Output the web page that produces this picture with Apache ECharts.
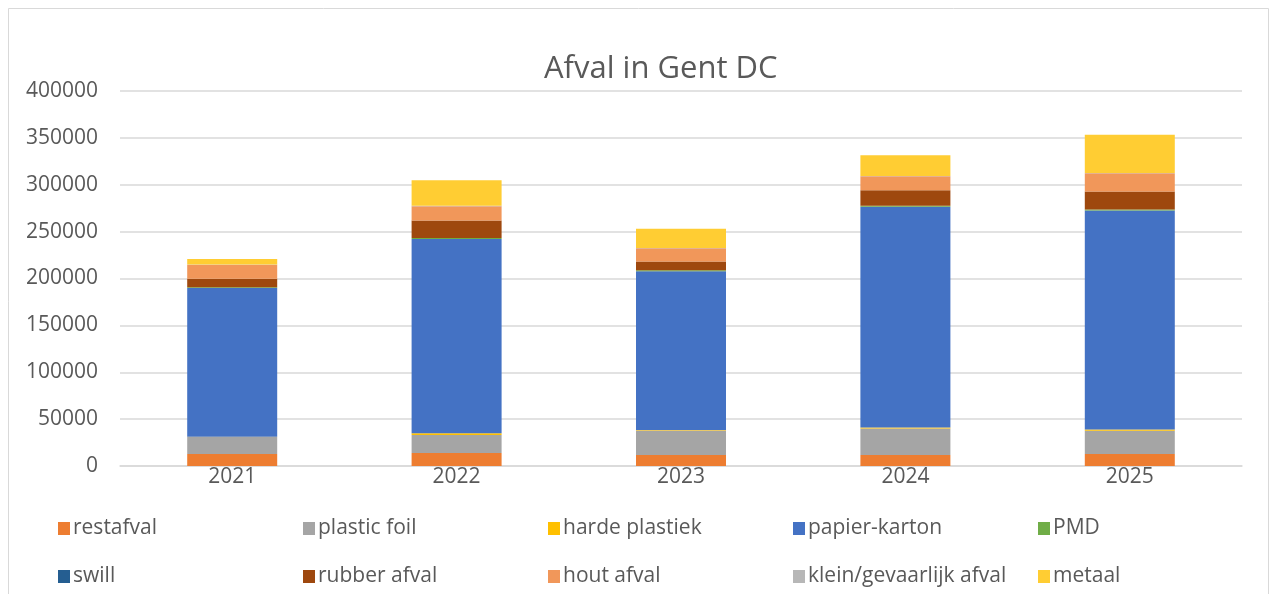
<!DOCTYPE html>
<html><head><meta charset="utf-8">
<script src="https://cdn.jsdelivr.net/npm/echarts@6/dist/echarts.min.js"></script>
<style>html,body{margin:0;padding:0;background:#fff;}#c{width:1271px;height:594px;}</style>
</head><body><div id="c"></div>
<script>
const years = ['2021','2022','2023','2024','2025'];
const restafval = [12800, 13800, 11700, 11700, 12800];
const plasticFoil = [18100, 19200, 26200, 28400, 24800];
const hardePlastiek = [300, 2000, 400, 1000, 1400];
const papierKarton = [158600, 207100, 169500, 235400, 233500];
const pmd = [1000, 1000, 1100, 1000, 1100];
const swill = [0, 0, 0, 0, 0];
const rubberAfval = [8900, 18800, 9200, 16700, 19200];
const houtAfval = [14900, 15200, 14200, 14900, 19500];
const kleinGevaarlijk = [300, 400, 300, 300, 300];
const metaal = [6000, 27300, 20500, 22000, 40800];
const yTicks = [0, 50000, 100000, 150000, 200000, 250000, 300000, 350000, 400000];

const seriesDefs = [
  ['restafval', restafval, '#ED7D31'],
  ['plastic foil', plasticFoil, '#A5A5A5'],
  ['harde plastiek', hardePlastiek, '#FFC000'],
  ['papier-karton', papierKarton, '#4472C4'],
  ['PMD', pmd, '#70AD47'],
  ['swill', swill, '#255E91'],
  ['rubber afval', rubberAfval, '#9E480E'],
  ['hout afval', houtAfval, '#F1975A'],
  ['klein/gevaarlijk afval', kleinGevaarlijk, '#B7B7B7'],
  ['metaal', metaal, '#FFCD33']
];
const FONT = '"Open Sans", sans-serif';
const legends = seriesDefs.map((s, i) => ({
  orient: 'horizontal',
  left: 53 + (i % 5) * 245,
  top: i < 5 ? 513 : 561,
  itemWidth: 12, itemHeight: 13, itemGap: 0,
  icon: 'rect',
  data: [s[0]],
  textStyle: { color: '#595959', fontSize: 21, fontFamily: FONT, padding: [0,0,0,-2] }
}));
const chart = echarts.init(document.getElementById('c'), null, {renderer: 'canvas'});
chart.setOption({
  animation: false,
  backgroundColor: '#fff',
  color: seriesDefs.map(s => s[2]),
  title: {
    text: 'Afval in Gent DC', left: 539, top: 49,
    textStyle: { color: '#595959', fontSize: 31, fontWeight: 'normal', fontFamily: FONT }
  },
  graphic: [{
    type: 'rect', shape: { x: 8.5, y: 8.5, width: 1260, height: 620 },
    style: { fill: 'none', stroke: '#d9d9d9', lineWidth: 1 }, silent: true, z: -1
  }],
  legend: legends,
  grid: { left: 120, right: 29, top: 91, bottom: 128, containLabel: false },
  xAxis: {
    type: 'category', data: years,
    axisLine: { lineStyle: { color: '#d9d9d9', width: 1.5 } },
    axisTick: { show: false },
    axisLabel: { color: '#595959', fontSize: 21, fontFamily: FONT, margin: 1 }
  },
  yAxis: {
    type: 'value', min: yTicks[0], max: yTicks[yTicks.length-1], interval: 50000,
    axisLine: { show: false }, axisTick: { show: false },
    splitLine: { lineStyle: { color: '#d9d9d9', width: 1.5 } },
    axisLabel: { color: '#595959', fontSize: 21, fontFamily: FONT, margin: 22,
      formatter: v => String(v) }
  },
  series: seriesDefs.map(s => ({
    name: s[0], type: 'bar', stack: 'total', data: s[1], barWidth: 90,
    itemStyle: { color: s[2] }
  }))
});
</script></body></html>
